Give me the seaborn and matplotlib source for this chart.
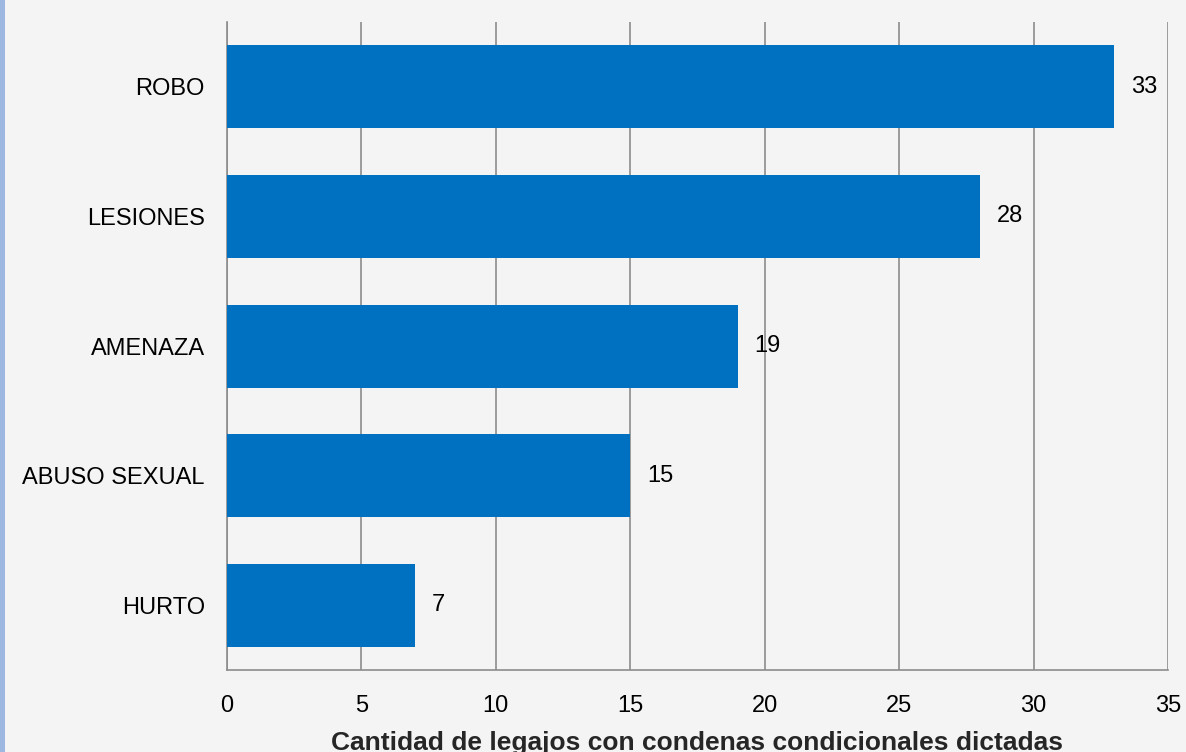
import pandas as pd
import matplotlib.pyplot as plt
import matplotlib.patches as mpatches
import seaborn as sns

delitos = ["ROBO", "LESIONES", "AMENAZA", "ABUSO SEXUAL", "HURTO"]
cantidad = [33, 28, 19, 15, 7]
xticks = [0, 5, 10, 15, 20, 25, 30, 35]

df = pd.DataFrame({"delito": delitos, "cantidad": cantidad})

sns.set_theme(style="white")
plt.rcParams["font.family"] = ["Liberation Sans", "DejaVu Sans"]

fig = plt.figure(figsize=(11.86, 7.52), dpi=100, facecolor="#f4f4f4")
ax = fig.add_axes([0.1914, 0.109, 0.7934, 0.8617])
ax.set_facecolor("#f4f4f4")

sns.barplot(data=df, x="cantidad", y="delito", color="#0070C0", width=0.64,
            saturation=1, linewidth=0, ax=ax, zorder=3)
ax.bar_label(ax.containers[0], labels=[str(v) for v in cantidad], padding=12,
             fontsize=17, color="black")

ax.set_xlim(0, 35)
ax.set_ylim(4.5, -0.5)
ax.set_xticks(xticks)
ax.set_xticklabels([str(t) for t in xticks])
ax.grid(axis="x", color="#8c8c8c", linewidth=1.2, zorder=0)
ax.grid(axis="y", visible=False)
ax.set_axisbelow(True)

for s in ["top", "right"]:
    ax.spines[s].set_visible(False)
for s in ["left", "bottom"]:
    ax.spines[s].set_color("#8c8c8c")
    ax.spines[s].set_linewidth(1.2)

ax.tick_params(axis="x", length=0, pad=18, labelsize=17, colors="black")
ax.tick_params(axis="y", length=0, pad=16, labelsize=17, colors="black")
ax.set_ylabel("")
ax.set_xlabel("Cantidad de legajos con condenas condicionales dictadas",
              fontsize=19, fontweight="bold", labelpad=10)

# franja azul del borde izquierdo
fig.patches.append(mpatches.Rectangle((0, 0), 5 / 1186, 1, transform=fig.transFigure,
                                      facecolor="#9db8e0", edgecolor="none"))

fig.savefig("out.png", dpi=100, facecolor=fig.get_facecolor())
